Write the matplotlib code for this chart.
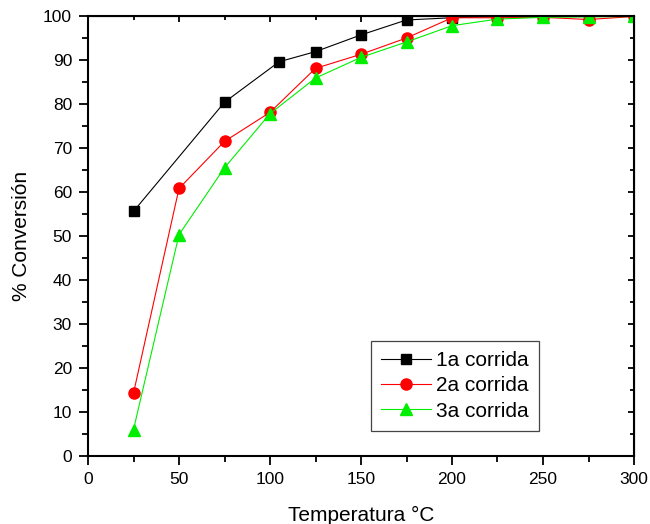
import matplotlib.pyplot as plt
from matplotlib.ticker import MultipleLocator

plt.rcParams['font.family'] = ['Liberation Sans', 'DejaVu Sans']

# 1a corrida
temp_1 = [25, 75, 105, 125, 150, 175, 200, 225, 250, 275, 300]
conv_1 = [55.6, 80.4, 89.6, 91.9, 95.7, 99.1, 99.6, 99.9, 100, 100, 100]
# 2a corrida
temp_2 = [25, 50, 75, 100, 125, 150, 175, 200, 225, 250, 275, 300]
conv_2 = [14.3, 60.8, 71.5, 78.1, 88.1, 91.3, 95.0, 99.6, 99.6, 99.7, 99.2, 99.9]
# 3a corrida
temp_3 = [25, 50, 75, 100, 125, 150, 175, 200, 225, 250, 275, 300]
conv_3 = [6.0, 50.3, 65.5, 77.8, 85.9, 90.6, 94.1, 97.8, 99.3, 99.7, 99.8, 99.9]

fig = plt.figure(figsize=(6.5, 5.24), dpi=100)
ax = fig.add_axes([88/650, 68/524, 546/650, 440/524])

ax.plot(temp_1, conv_1, '-', color='black', lw=0.8, marker='s', ms=7, label='1a corrida')
ax.plot(temp_2, conv_2, '-', color='red', lw=0.8, marker='o', ms=8, label='2a corrida')
ax.plot(temp_3, conv_3, '-', color='#00ee00', lw=0.8, marker='^', ms=8.5, label='3a corrida')

ax.set_xlim(0, 300)
ax.set_ylim(0, 100)
ax.xaxis.set_major_locator(MultipleLocator(50))
ax.xaxis.set_minor_locator(MultipleLocator(25))
ax.yaxis.set_major_locator(MultipleLocator(10))
ax.yaxis.set_minor_locator(MultipleLocator(5))

for s in ax.spines.values():
    s.set_linewidth(1.5)
ax.tick_params(which='both', direction='out', width=1.3, labelsize=12.5, top=False, right=False)
ax.tick_params(which='major', length=6.5, pad=5)
ax.tick_params(which='minor', length=4)

# inward ticks on the top and right edges
ax2 = ax.secondary_xaxis('top')
ax2.xaxis.set_major_locator(MultipleLocator(50))
ax2.xaxis.set_minor_locator(MultipleLocator(25))
ax2.tick_params(which='both', direction='in', width=1.3, labeltop=False)
ax2.tick_params(which='major', length=4)
ax2.tick_params(which='minor', length=3)
ay2 = ax.secondary_yaxis('right')
ay2.yaxis.set_major_locator(MultipleLocator(10))
ay2.yaxis.set_minor_locator(MultipleLocator(5))
ay2.tick_params(which='both', direction='in', width=1.3, labelright=False)
ay2.tick_params(which='major', length=4)
ay2.tick_params(which='minor', length=3)

ax.set_xlabel('Temperatura °C', fontsize=15, labelpad=14)
ax.set_ylabel('% Conversión', fontsize=15, labelpad=9)

leg = ax.legend(loc='upper left', bbox_to_anchor=(0.518, 0.261), fontsize=15,
                fancybox=False, edgecolor='#444444', framealpha=1,
                handlelength=2.4, handletextpad=0.25, borderpad=0.48,
                labelspacing=0.3, borderaxespad=0)
leg.get_frame().set_linewidth(0.9)

fig.savefig('out.png', dpi=100)
